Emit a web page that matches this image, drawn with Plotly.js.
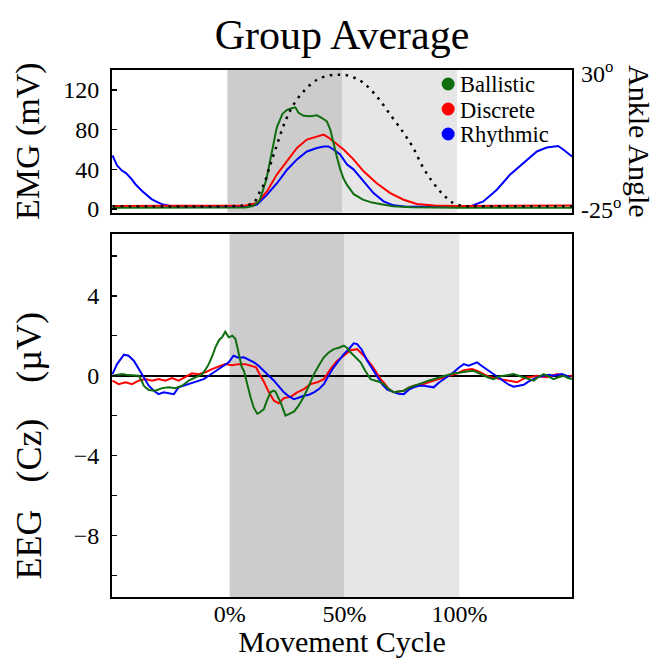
<!DOCTYPE html>
<html>
<head>
<meta charset="utf-8">
<script src="https://cdn.plot.ly/plotly-3.0.1.min.js"></script>
<style>html,body{margin:0;padding:0;background:#fff;}#chart{width:657px;height:658px;}</style>
</head>
<body>
<div id="chart"></div>
<script>
// ---------- EMG (top panel), x = movement cycle (%) ----------
const emgBallisticX = [-50,-20,0,8,11,14,17,19.5,21.5,24,26,28,29.6,31,33.2,36.1,39,41.2,43.3,44.8,46.2,47.5,49,50.5,52,55,59,63,67,72,80,100,150];
const emgBallistic  = [1.2,1.2,1.2,1.5,3,8,30,60,82,96,100,101.5,102.5,97,94,93.4,94.4,91.7,88.4,80,65,54,41,31,24.5,15,9.4,6.5,4.8,2.7,1.8,1.2,1.2];

const emgDiscreteX = [-50,0,8,12.9,17.3,21.6,26,30.3,34.6,39,41.9,44,46.2,50.6,54.9,59.3,65,70.9,76.7,82.5,90,100,150];
const emgDiscrete  = [3,3,3.5,6,18,35,48,61.5,70,73,75,72,68,60,50,38,26,16,9.4,5,3.5,3,3.5];

const emgRhythmicX = [-50,-48,-46,-44,-42,-40,-37,-35,-33,-30,-28,-25,-22,-15,0,9,12.9,17.3,21.6,26,30.3,34.6,39,41.9,44,46.2,49.1,52,54.9,59.3,63.6,68,72.3,78,100,105.7,111.4,117.3,123,128.8,134.7,139,141.9,144,146.2,150];
const emgRhythmic  = [54,44,39,36,31,25,18,14,10,6.5,4.5,3,2.2,2,2,2.5,4.4,14.5,26,39.6,50,58,61.5,63,63,60,55,45,40,28,16,7.7,3.7,2.2,2,2.7,7.7,19.5,34.6,46,58,62,63,63.5,60,53];

// ---------- Ankle angle (degrees), dotted ----------
const ankleX = [-50,0,5,8,11.4,13.5,15.8,18.7,21.6,25.2,28.8,33.2,39,44.8,48.4,52,55.5,59.3,65,70.9,76.7,80.9,85.3,89.7,94,98.4,104,110,150];
const ankleDeg = [-23.8,-23.8,-23.6,-23.3,-22.5,-19,-15.1,-7,1.1,10.6,17.3,22.7,27.4,29.2,29.4,29.2,28.1,26.1,20.7,13.3,5.9,-0.2,-8.3,-14.4,-19.1,-22.5,-23.8,-23.8,-23.8];

// ---------- EEG (bottom panel) ----------
const eegRhythmicX = [-51,-49,-46,-44,-41.7,-39.6,-37.4,-35.2,-33,-30.9,-28.7,-26.5,-24.3,-22.2,-20,-17.8,-15.7,-13.5,-11.3,-9.1,-7,-4.8,-2.6,-0.4,1.7,3.9,6.2,8.3,10.6,12.6,14.9,17,19.3,21.5,23.6,26,28,30,32.3,34.5,36.7,39,41,43,45.3,47.5,49.7,52,54,55.5,57.5,59.9,62,64.2,66.5,68.6,71.4,73.5,75.8,78,80.1,82.3,84.5,86.5,88.8,91,93.2,95.4,97.5,99.7,101.9,104,106,107.7,109,110.6,112.8,114.9,117,119.3,121.5,123.6,125.8,128,130,132.3,134.5,136.7,139,141,143,144.6,146.5,148.3];
const eegRhythmic  = [0.08,0.58,1.05,1.0,0.75,0.33,-0.08,-0.5,-0.75,-0.92,-0.83,-0.88,-0.92,-0.58,-0.5,-0.42,-0.33,-0.25,-0.17,0,0.17,0.33,0.5,0.67,1.0,0.9,0.92,0.8,0.67,0.5,0.25,0,-0.25,-0.55,-0.83,-1.05,-1.17,-1.1,-1.0,-0.95,-0.83,-0.65,-0.42,0,0.42,0.75,1.08,1.35,1.62,1.58,1.3,0.75,0.35,-0.08,-0.45,-0.7,-0.83,-0.9,-0.92,-0.7,-0.58,-0.5,-0.5,-0.55,-0.58,-0.35,-0.17,0,0.17,0.4,0.58,0.5,0.6,0.67,0.55,0.42,0.25,0.08,-0.1,-0.25,-0.45,-0.55,-0.5,-0.45,-0.3,-0.17,-0.05,0,0.05,0,0.05,0.08,0,-0.08];

const eegBallisticX = [-51,-48,-46.8,-44,-42.5,-39.6,-38.5,-37.4,-35.2,-32.3,-29.4,-26.5,-23.6,-20.7,-17.8,-14.9,-12,-10.5,-9.1,-7.5,-6.2,-4.5,-3.3,-1.9,-0.4,1.2,2.5,3.3,5.3,6.2,7.5,9.1,10.5,12,13,14.9,16.2,17.8,19,20,21.2,22.2,24.3,26,28,30,32.3,34.5,36.7,39,41,43,45.3,47.5,49.7,51,52.6,55,57,59,61.3,63.5,65.7,67,69.3,71.4,73.5,75.8,78,80.1,82.3,84.5,86.5,88.8,91,93.2,95.4,97.5,99.7,101.9,104,106.2,108.4,110.6,112.8,114.9,117,119.3,121.5,123.6,125.8,128,130,132.3,134.5,136.7,139,141,143,145.4,147,149];
const eegBallistic  = [0,0.05,0.08,0.03,0.03,0,-0.2,-0.5,-0.72,-0.75,-0.62,-0.58,-0.62,-0.5,-0.25,-0.08,0.08,0.3,0.58,1.0,1.42,1.8,1.92,2.2,1.92,2.0,1.85,1.45,0.42,0.25,-0.4,-1.08,-1.6,-1.9,-1.85,-1.67,-1.25,-0.83,-0.75,-0.8,-1.1,-1.33,-2.0,-1.9,-1.8,-1.5,-1.05,-0.5,0.08,0.55,0.92,1.15,1.33,1.4,1.5,1.4,1.17,0.9,0.67,0.25,-0.17,-0.25,-0.33,-0.42,-0.67,-0.83,-0.8,-0.75,-0.6,-0.5,-0.4,-0.33,-0.25,-0.17,-0.08,0,0.05,0.12,0.15,0.2,0.22,0.25,0.12,0,-0.1,-0.17,-0.05,0,0.05,0.08,0,-0.08,-0.15,-0.25,-0.05,0.08,-0.05,-0.17,-0.08,0,-0.1,-0.17];

const eegDiscreteX = [-51,-48.3,-45.3,-42.5,-39.6,-36.7,-33.8,-30.9,-28,-25.1,-22.2,-19.3,-16.4,-13.5,-10.6,-7.7,-4.8,-1.9,1,3.9,6.8,9.7,11.5,12.7,14.9,17.1,19.3,21.4,23.6,26.5,29.4,32.3,35.2,38.1,41,43.9,46.8,49.7,52.6,55.5,58.4,62,65.7,67,69.3,71.4,73.5,75.8,78,80.1,82.3,84.5,86.5,88.8,91,93.2,95.4,97.5,99.7,101.9,103.5,105.5,107.5,109.1,111.3,113.5,115.7,117.8,120,122.2,125.1,127.2,129.4,131.6,133.8,136,138.1,140.3,142.5,144.6,146.8,149];
const eegDiscrete  = [-0.25,-0.42,-0.33,-0.42,-0.25,-0.17,-0.25,-0.17,-0.25,-0.12,-0.25,-0.08,0.12,0.08,0.17,0.33,0.45,0.58,0.53,0.58,0.58,0.5,0.42,0.15,-0.3,-0.83,-1.25,-1.38,-1.12,-1.05,-0.83,-0.67,-0.42,-0.33,-0.17,0.33,0.75,1.0,1.28,1.33,1.0,0.5,-0.17,-0.33,-0.67,-0.83,-0.8,-0.75,-0.6,-0.5,-0.45,-0.42,-0.33,-0.25,-0.15,-0.08,0,0.05,0.15,0.28,0.3,0.33,0.25,0.17,0.05,-0.08,-0.12,-0.17,-0.2,-0.25,-0.33,-0.2,-0.08,-0.05,0,-0.05,-0.08,0,0.08,0.02,-0.05,0];

// ---------- labels ----------
const seriesNames = ['Ballistic','Discrete','Rhythmic'];
const seriesColors = ['#0f6e0f','#ff0000','#0000ff'];
const xTickVals = [0,50,100];
const xTickText = ['0%','50%','100%'];
const emgTickVals = [0,40,80,120];
const ankleTickVals = [-25,30];
const ankleTickText = ['-25<sup>o</sup>','30<sup>o</sup>'];

const FONT = 'Liberation Serif';
const W = 657, H = 658;
const M = {l:111.5, r:85, t:70, b:61};
const PW = W - M.l - M.r, PH = H - M.t - M.b;
const px2x = p => (p - M.l) / PW;
const py2y = p => 1 - (p - M.t) / PH;

const G = seriesColors[0], R = seriesColors[1], B = seriesColors[2];
const traces = [
  {x: emgRhythmicX, y: emgRhythmic, xaxis:'x', yaxis:'y', mode:'lines', line:{color:B, width:2}, name:seriesNames[2], showlegend:false},
  {x: emgDiscreteX, y: emgDiscrete, xaxis:'x', yaxis:'y', mode:'lines', line:{color:R, width:2}, name:seriesNames[1], showlegend:false},
  {x: emgBallisticX, y: emgBallistic, xaxis:'x', yaxis:'y', mode:'lines', line:{color:G, width:2}, name:seriesNames[0], showlegend:false},
  {x: ankleX, y: ankleDeg, xaxis:'x', yaxis:'y3', mode:'lines', line:{color:'#000', width:2.5, dash:'2.5px,5.5px', shape:'spline'}, name:'Ankle Angle', showlegend:false},
  {x: eegDiscreteX, y: eegDiscrete, xaxis:'x2', yaxis:'y2', mode:'lines', line:{color:R, width:2}, name:seriesNames[1], showlegend:false},
  {x: eegRhythmicX, y: eegRhythmic, xaxis:'x2', yaxis:'y2', mode:'lines', line:{color:B, width:2}, name:seriesNames[2], showlegend:false},
  {x: eegBallisticX, y: eegBallistic, xaxis:'x2', yaxis:'y2', mode:'lines', line:{color:G, width:2}, name:seriesNames[0], showlegend:false}
];

const frame = {showline:true, mirror:true, linecolor:'#000', linewidth:2, showgrid:false, zeroline:false};
const shapes = [
  {type:'rect', xref:'x', yref:'y domain', x0:0, x1:50, y0:0, y1:1, fillcolor:'#cccccc', line:{width:0}, layer:'below'},
  {type:'rect', xref:'x', yref:'y domain', x0:50, x1:100, y0:0, y1:1, fillcolor:'#e6e6e6', line:{width:0}, layer:'below'},
  {type:'rect', xref:'x2', yref:'y2 domain', x0:0, x1:50, y0:0, y1:1, fillcolor:'#cccccc', line:{width:0}, layer:'below'},
  {type:'rect', xref:'x2', yref:'y2 domain', x0:50, x1:100, y0:0, y1:1, fillcolor:'#e6e6e6', line:{width:0}, layer:'below'}
];
const annotations = [];
const legY = [84, 109, 134];
seriesNames.forEach((n, i) => {
  shapes.push({type:'circle', xref:'paper', yref:'paper', xsizemode:'pixel', ysizemode:'pixel',
    xanchor: px2x(448), yanchor: py2y(legY[i]), x0:-6.5, x1:6.5, y0:-6.5, y1:6.5,
    fillcolor: seriesColors[i], line:{width:0}});
  annotations.push({text:n, xref:'paper', yref:'paper', x: px2x(458), y: py2y(legY[i]+1), xanchor:'left', yanchor:'middle',
    showarrow:false, font:{family:FONT, size:22.5, color:'#000'}});
});
annotations.push({text:'Ankle Angle', xref:'paper', yref:'paper', x: px2x(640), y: py2y(141), xanchor:'center', yanchor:'middle',
  textangle:90, showarrow:false, font:{family:FONT, size:30, color:'#000'}});
annotations.push({text:'EEG\u00A0\u00A0\u00A0(Cz)\u00A0\u00A0\u00A0\u00A0(µV)', xref:'paper', yref:'paper', x: px2x(28), y: py2y(446), xanchor:'center', yanchor:'middle',
  textangle:-90, showarrow:false, font:{family:FONT, size:36, color:'#000'}});

const layout = {
  width:W, height:H, margin:M, paper_bgcolor:'#fff', plot_bgcolor:'#fff', showlegend:false,
  font:{family:FONT, color:'#000', size:24},
  title:{text:'Group Average', font:{family:FONT, size:42, color:'#000'}, x:0.5, xref:'paper', y:1-34/H, yref:'container', yanchor:'middle'},
  xaxis: Object.assign({}, frame, {domain:[0,1], range:[-50.2,150], anchor:'y', showticklabels:false, ticks:''}),
  yaxis: Object.assign({}, frame, {domain:[1-142.5/PH,1], range:[-3.5,140.1], anchor:'x', tickvals:emgTickVals, ticks:'inside', ticklen:5, tickwidth:1.5, tickcolor:'#000', tickfont:{family:FONT, size:24}, ticklabelstandoff:6,
    title:{text:'EMG (mV)', font:{family:FONT, size:34}, standoff:13}}),
  yaxis3: {overlaying:'y', side:'right', anchor:'x', range:[-26.3,31.33], tickvals:ankleTickVals, ticktext:ankleTickText, ticks:'', showline:false, showgrid:false, zeroline:false, tickfont:{family:FONT, size:24}, ticklabelstandoff:8},
  xaxis2: Object.assign({}, frame, {domain:[0,1], range:[-51.2,149], anchor:'y2', tickvals:xTickVals, ticktext:xTickText, ticks:'', tickfont:{family:FONT, size:24}, ticklabelstandoff:-6,
    title:{text:'Movement Cycle', font:{family:FONT, size:30}, standoff:6}}),
  yaxis2: Object.assign({}, frame, {domain:[0,363/PH], range:[-11.07,7.09], anchor:'x2', tickmode:'linear', tick0:0, dtick:4, ticks:'inside', ticklen:5, tickwidth:1.5, tickcolor:'#000', tickfont:{family:FONT, size:24}, ticklabelstandoff:6,
    minor:{tick0:0, dtick:2, ticks:'inside', ticklen:5, tickwidth:1.5, tickcolor:'#000', showgrid:false},
    zeroline:true, zerolinecolor:'#000', zerolinewidth:2}),
  shapes: shapes,
  annotations: annotations
};

Plotly.newPlot('chart', traces, layout, {staticPlot:true, displayModeBar:false});
</script>
</body>
</html>
